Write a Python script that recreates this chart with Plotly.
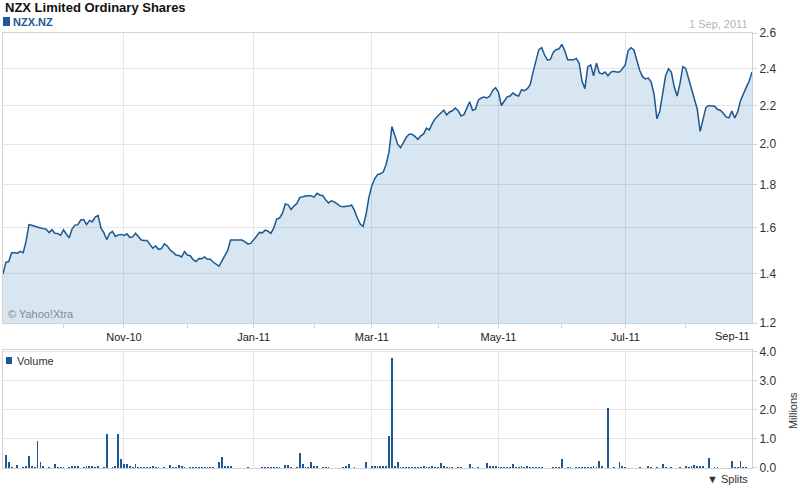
import numpy as np
import pandas as pd
import plotly.graph_objects as go

# Weekdays from 2 Sep 2010 to 1 Sep 2011 (Yahoo drops weekends, keeps holidays)
days = pd.bdate_range("2010-09-02", "2011-09-01")

# Daily close, NZD - one row per week (first row Thu/Fri, last row Mon-Thu)
close = [
    1.400, 1.449,
    1.452, 1.490, 1.490, 1.488, 1.496,
    1.490, 1.540, 1.615, 1.612, 1.607,
    1.604, 1.600, 1.597, 1.594, 1.579,
    1.592, 1.576, 1.575, 1.567, 1.592,
    1.572, 1.556, 1.596, 1.613, 1.615,
    1.636, 1.638, 1.615, 1.633, 1.628,
    1.649, 1.657, 1.600, 1.579, 1.548,
    1.575, 1.585, 1.562, 1.569, 1.571,
    1.566, 1.574, 1.558, 1.560, 1.576,
    1.560, 1.546, 1.544, 1.544, 1.527,
    1.510, 1.520, 1.505, 1.508, 1.529,
    1.520, 1.502, 1.493, 1.480, 1.478,
    1.472, 1.495, 1.480, 1.477, 1.460,
    1.452, 1.465, 1.464, 1.472, 1.462,
    1.462, 1.449, 1.440, 1.432, 1.455,
    1.478, 1.500, 1.546, 1.546, 1.546,
    1.546, 1.546, 1.538, 1.529, 1.531,
    1.545, 1.563, 1.580, 1.578, 1.590,
    1.585, 1.576, 1.600, 1.640, 1.645,
    1.667, 1.710, 1.706, 1.684, 1.700,
    1.712, 1.740, 1.745, 1.747, 1.749,
    1.748, 1.742, 1.760, 1.752, 1.749,
    1.730, 1.715, 1.725, 1.720, 1.710,
    1.700, 1.697, 1.697, 1.700, 1.705,
    1.680, 1.645, 1.618, 1.607, 1.660,
    1.740, 1.795, 1.828, 1.850, 1.854,
    1.862, 1.900, 1.960, 2.090, 2.050,
    2.000, 1.982, 2.010, 2.035, 2.050,
    2.050, 2.040, 2.024, 2.042, 2.052,
    2.082, 2.073, 2.105, 2.130, 2.146,
    2.158, 2.175, 2.150, 2.166, 2.172,
    2.187, 2.172, 2.145, 2.152, 2.190,
    2.220, 2.175, 2.180, 2.228, 2.240,
    2.245, 2.240, 2.250, 2.280, 2.295,
    2.270, 2.200, 2.225, 2.246, 2.250,
    2.266, 2.256, 2.250, 2.284, 2.279,
    2.290, 2.312, 2.380, 2.440, 2.505,
    2.516, 2.475, 2.446, 2.450, 2.490,
    2.505, 2.510, 2.535, 2.500, 2.448,
    2.448, 2.448, 2.456, 2.430, 2.330,
    2.290, 2.410, 2.420, 2.360, 2.430,
    2.375, 2.370, 2.380, 2.360, 2.380,
    2.385, 2.380, 2.380, 2.399, 2.420,
    2.500, 2.516, 2.503, 2.440, 2.390,
    2.355, 2.343, 2.347, 2.325, 2.260,
    2.130, 2.170, 2.260, 2.360, 2.398,
    2.380, 2.300, 2.250, 2.317, 2.410,
    2.400, 2.345, 2.295, 2.240, 2.180,
    2.065, 2.135, 2.190, 2.200, 2.196,
    2.196, 2.180, 2.175, 2.160, 2.140,
    2.135, 2.170, 2.135, 2.165, 2.225,
    2.265, 2.297, 2.330, 2.380,
]

# Daily volume, millions of shares - same rows as above
volume = [
    0.00, 0.47,
    0.24, 0.05, 0.00, 0.12, 0.00,
    0.05, 0.08, 0.43, 0.08, 0.05,
    0.94, 0.24, 0.08, 0.00, 0.05,
    0.00, 0.14, 0.06, 0.06, 0.06,
    0.00, 0.06, 0.08, 0.08, 0.08,
    0.00, 0.06, 0.08, 0.10, 0.08,
    0.06, 0.08, 0.00, 0.06, 1.19,
    0.00, 0.06, 0.08, 1.19, 0.34,
    0.15, 0.17, 0.08, 0.05, 0.17,
    0.05, 0.05, 0.05, 0.05, 0.05,
    0.10, 0.05, 0.05, 0.00, 0.05,
    0.00, 0.12, 0.05, 0.05, 0.12,
    0.10, 0.05, 0.00, 0.05, 0.05,
    0.05, 0.05, 0.05, 0.05, 0.05,
    0.05, 0.05, 0.00, 0.22, 0.40,
    0.08, 0.08, 0.08, 0.00, 0.00,
    0.00, 0.00, 0.00, 0.03, 0.00,
    0.00, 0.00, 0.00, 0.05, 0.05,
    0.05, 0.05, 0.05, 0.05, 0.05,
    0.00, 0.12, 0.12, 0.05, 0.00,
    0.05, 0.52, 0.17, 0.06, 0.06,
    0.24, 0.08, 0.08, 0.00, 0.04,
    0.04, 0.04, 0.00, 0.00, 0.00,
    0.00, 0.05, 0.10, 0.14, 0.00,
    0.05, 0.00, 0.00, 0.00, 0.21,
    0.00, 0.10, 0.10, 0.10, 0.10,
    0.10, 0.10, 1.12, 3.80, 0.08,
    0.21, 0.06, 0.06, 0.06, 0.06,
    0.05, 0.06, 0.05, 0.06, 0.08,
    0.06, 0.05, 0.08, 0.06, 0.05,
    0.20, 0.08, 0.05, 0.05, 0.05,
    0.00, 0.05, 0.05, 0.00, 0.00,
    0.14, 0.04, 0.00, 0.04, 0.00,
    0.00, 0.20, 0.10, 0.10, 0.08,
    0.05, 0.05, 0.05, 0.05, 0.05,
    0.14, 0.06, 0.05, 0.08, 0.06,
    0.08, 0.06, 0.06, 0.05, 0.06,
    0.04, 0.00, 0.00, 0.00, 0.04,
    0.05, 0.05, 0.31, 0.00, 0.06,
    0.06, 0.00, 0.06, 0.05, 0.06,
    0.05, 0.05, 0.05, 0.10, 0.05,
    0.27, 0.09, 0.00, 2.07, 0.00,
    0.06, 0.00, 0.23, 0.09, 0.02,
    0.00, 0.01, 0.00, 0.00, 0.04,
    0.00, 0.00, 0.10, 0.06, 0.00,
    0.06, 0.00, 0.17, 0.04, 0.00,
    0.04, 0.00, 0.00, 0.04, 0.00,
    0.07, 0.06, 0.10, 0.12, 0.08,
    0.10, 0.08, 0.00, 0.35, 0.00,
    0.06, 0.02, 0.00, 0.00, 0.00,
    0.00, 0.27, 0.06, 0.06, 0.27,
    0.04, 0.04, 0.00, 0.00,
]

price_ticks = [1.2, 1.4, 1.6, 1.8, 2.0, 2.2, 2.4, 2.6]
volume_ticks = [0, 1, 2, 3, 4]
month_ticks = ["2010-11-01", "2011-01-03", "2011-03-01", "2011-05-02", "2011-07-01"]
month_labels = ["Nov-10", "Jan-11", "Mar-11", "May-11", "Jul-11"]
minor_months = ["2010-10-01", "2010-12-01", "2011-02-01", "2011-04-01", "2011-06-01", "2011-08-01"]

# the price axis on the original is squashed at the top, close to a square-root scale
sq = np.sqrt

BLUE = "#1d5794"
GRID = "#e4e6ea"
FRAME = "#d2d2d2"
FONT = "Liberation Sans, Arial, sans-serif"

fig = go.Figure()

fig.add_trace(go.Scatter(
    x=days, y=sq(close), mode="lines", line=dict(color=BLUE, width=1.5),
    fill="tozeroy", fillcolor="rgba(55,130,180,0.2)",
    xaxis="x", yaxis="y", hoverinfo="skip"))

fig.add_trace(go.Bar(
    x=days, y=volume, marker=dict(color=BLUE, line=dict(width=0)),
    width=0.3 * 86400000, xaxis="x2", yaxis="y2", hoverinfo="skip"))

xcommon = dict(
    range=["2010-09-02", "2011-09-01"],
    rangebreaks=[dict(bounds=["sat", "mon"])],
    tickvals=month_ticks, showgrid=True, gridcolor=GRID, gridwidth=1,
    showline=True, linecolor=FRAME, linewidth=1, mirror=True, zeroline=False,
)

fig.update_layout(
    width=800, height=488,
    margin=dict(l=3, r=48, t=33, b=20),
    paper_bgcolor="white", plot_bgcolor="white",
    showlegend=False, bargap=0,
    font=dict(family=FONT, size=11, color="#333333"),
    xaxis=dict(
        xcommon, anchor="y", ticktext=month_labels, ticks="outside", ticklen=4,
        tickcolor=FRAME, tickfont=dict(size=11, color="#222222"),
        minor=dict(tickvals=minor_months, ticks="outside", ticklen=4,
                   tickcolor=FRAME, showgrid=False),
    ),
    yaxis=dict(
        domain=[0.3333, 1], anchor="x", side="right",
        range=[sq(1.2), sq(2.6)],
        tickvals=sq(price_ticks), ticktext=[f"{v:.1f}" for v in price_ticks],
        ticks="outside", ticklen=4, tickcolor=FRAME,
        tickfont=dict(size=12, color="#333333"),
        showgrid=True, gridcolor=GRID, showline=True, linecolor=FRAME, mirror=True,
        zeroline=False,
    ),
    xaxis2=dict(xcommon, anchor="y2", ticktext=[""] * len(month_ticks), ticks=""),
    yaxis2=dict(
        domain=[0, 0.2724], anchor="x2", side="right", range=[0, 4.08],
        tickvals=volume_ticks, tickformat=".1f",
        ticks="outside", ticklen=4, tickcolor=FRAME,
        tickfont=dict(size=12, color="#333333"),
        showgrid=True, gridcolor=GRID, showline=True, linecolor=FRAME, mirror=True,
        zeroline=False,
    ),
)

# legend squares
fig.add_shape(type="rect", xref="paper", yref="paper", xsizemode="pixel", ysizemode="pixel",
              xanchor=0, yanchor=1, x0=0, x1=7, y0=7, y1=16,
              fillcolor=BLUE, line=dict(width=0))
fig.add_shape(type="rect", xref="paper", yref="paper", xsizemode="pixel", ysizemode="pixel",
              xanchor=0, yanchor=0.2724, x0=3, x1=9, y0=-14.5, y1=-7.5,
              fillcolor=BLUE, line=dict(width=0))

notes = [
    dict(text="<b>NZX Limited Ordinary Shares</b>", x=0, y=1.0575, xanchor="left",
         font=dict(size=13, color="#111111")),
    dict(text="<b>NZX.NZ</b>", x=0.0107, y=1.0253, xanchor="left",
         font=dict(size=11, color=BLUE)),
    dict(text="1 Sep, 2011", x=0.997, y=1.0207, xanchor="right",
         font=dict(size=11, color="#b4b4b4")),
    dict(text="© Yahoo!Xtra", x=0.004, y=0.354, xanchor="left",
         font=dict(size=11, color="#8a8a8a")),
    dict(text="Volume", x=0.016, y=0.246, xanchor="left",
         font=dict(size=11, color="#333333")),
    dict(text="Millions", x=1.0547, y=0.133, xanchor="center", textangle=-90,
         font=dict(size=11, color="#333333")),
    dict(text="▼ Splits", x=0.997, y=-0.0253, xanchor="right",
         font=dict(size=11, color="#333333")),
    dict(text="Sep-11", x=1.0, y=0.3034, xanchor="right",
         font=dict(size=11, color="#222222")),
]
for n in notes:
    fig.add_annotation(xref="paper", yref="paper", yanchor="middle", showarrow=False, **n)

# the page's default 8px body margin would push the 800x488 figure off the window
fig.write_html("out.html", config={"displayModeBar": False},
               post_script="document.body.style.margin='0';")
